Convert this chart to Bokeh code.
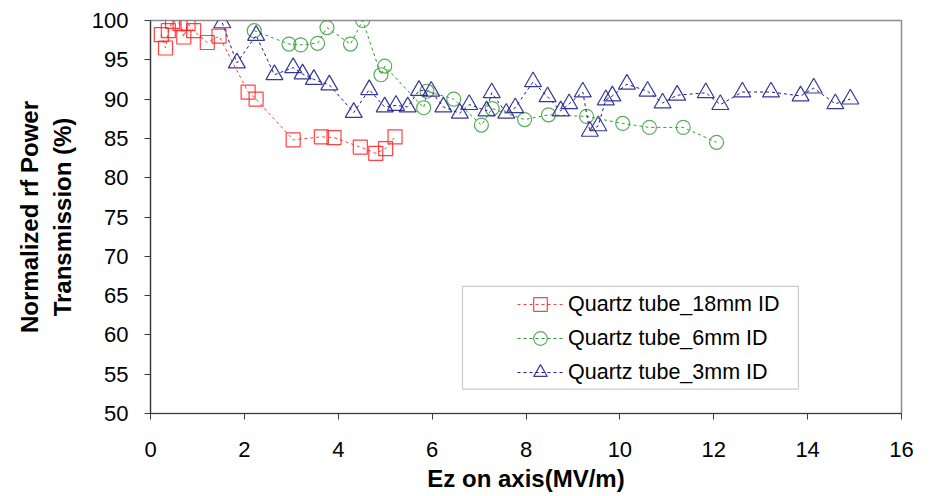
from bokeh.plotting import figure
from bokeh.embed import file_html
from bokeh.resources import INLINE
from bokeh.models import Range1d, SingleIntervalTicker, Legend, LegendItem, BoxAnnotation

# ---- data ----
x_18mm = [0.23, 0.32, 0.38, 0.47, 0.63, 0.71, 0.80, 0.92, 1.21, 1.46, 2.08, 2.25,
          3.04, 3.64, 3.91, 4.47, 4.80, 5.01, 5.21]
y_18mm = [98.2, 96.5, 98.7, 99.9, 99.6, 97.9, 99.6, 98.7, 97.2, 98.0, 90.9, 90.0,
          84.8, 85.2, 85.1, 83.9, 83.1, 83.7, 85.2]

x_6mm = [2.21, 2.95, 3.20, 3.56, 3.76, 4.26, 4.52, 4.91, 4.99, 5.82, 5.89, 6.46,
         7.05, 7.28, 7.97, 8.48, 9.29, 10.06, 10.63, 11.35, 12.06]
y_6mm = [98.7, 97.0, 96.9, 97.1, 99.1, 97.0, 100.0, 93.1, 94.2, 88.9, 91.0, 90.0,
         86.7, 88.8, 87.4, 88.0, 87.8, 86.9, 86.4, 86.4, 84.5]

x_3mm = [1.53, 1.84, 2.25, 2.64, 3.04, 3.24, 3.48, 3.81, 4.33, 4.66, 4.99, 5.23,
         5.48, 5.72, 5.98, 6.24, 6.59, 6.79, 7.16, 7.27, 7.58, 7.77, 8.15, 8.46,
         8.74, 8.92, 9.21, 9.36, 9.54, 9.70, 9.84, 10.15, 10.59, 10.91, 11.22,
         11.83, 12.14, 12.61, 13.22, 13.85, 14.13, 14.59, 14.91]
y_3mm = [99.7, 94.6, 98.1, 93.1, 94.0, 93.2, 92.5, 91.8, 88.3, 91.2, 89.0, 89.2,
         89.0, 91.1, 91.0, 89.0, 88.2, 89.3, 88.5, 90.8, 88.2, 88.9, 92.2, 90.3,
         88.5, 89.4, 90.9, 85.9, 86.6, 89.9, 90.4, 91.9, 91.0, 89.5, 90.5,
         90.8, 89.3, 90.9, 90.9, 90.4, 91.4, 89.4, 90.0]

labels = ["Quartz tube_18mm ID", "Quartz tube_6mm ID", "Quartz tube_3mm ID"]
x_title = "Ez on axis(MV/m)"
y_title = "Normalized rf Power\nTransmission (%)"

FONT = "Liberation Sans"

p = figure(width=929, height=496, output_backend="svg", toolbar_location=None,
           x_range=Range1d(0, 16), y_range=Range1d(50, 100),
           min_border_left=150, min_border_right=28, min_border_top=20,
           min_border_bottom=83)
p.background_fill_color = "white"
p.border_fill_color = "white"
p.outline_line_color = "#8c8c8c"
p.outline_line_width = 1.5
p.xgrid.visible = False
p.ygrid.visible = False

for ax in (p.xaxis[0], p.yaxis[0]):
    ax.axis_line_color = "#3a3a3a"
    ax.axis_line_width = 1.2
    ax.major_tick_line_color = "#3a3a3a"
    ax.major_tick_in = 0
    ax.major_tick_out = 6
    ax.minor_tick_line_color = None
    ax.major_label_text_font = FONT
    ax.major_label_text_font_size = "22px"
    ax.major_label_text_color = "black"
    ax.axis_label_text_font = FONT
    ax.axis_label_text_font_style = "bold"
    ax.axis_label_text_font_size = "24px"
    ax.axis_label_text_color = "black"

p.xaxis[0].ticker = SingleIntervalTicker(interval=2)
p.yaxis[0].ticker = SingleIntervalTicker(interval=5)
p.xaxis[0].major_label_standoff = 22
p.yaxis[0].major_label_standoff = 16
p.xaxis[0].axis_label = x_title
p.yaxis[0].axis_label = y_title
p.xaxis[0].axis_label_standoff = 5
p.yaxis[0].axis_label_standoff = 13

red_line, red_mk = "#ff4040", "#ff2020"
grn_line, grn_mk = "#2e9a2e", "#3aa03a"
blu_line, blu_mk = "#1a1a8c", "#22228c"

l1 = p.line(x_18mm, y_18mm, line_color=red_line, line_dash="3 3", line_width=1)
m1 = p.scatter(x_18mm, y_18mm, marker="square", size=14, fill_color=None,
               line_color=red_mk, line_width=1.2, line_alpha=0.85)
l2 = p.line(x_6mm, y_6mm, line_color=grn_line, line_dash="3 3", line_width=1)
m2 = p.scatter(x_6mm, y_6mm, marker="circle", size=14, fill_color=None,
               line_color=grn_mk, line_width=1.2, line_alpha=0.85)
l3 = p.line(x_3mm, y_3mm, line_color=blu_line, line_dash="3 3", line_width=1)
m3 = p.scatter(x_3mm, y_3mm, marker="triangle", size=17, fill_color=None,
               line_color=blu_mk, line_width=1.2, line_alpha=0.9)

# legend frame
box = BoxAnnotation(left=(462 - 150) / 46.94, right=(798 - 150) / 46.94,
                    top=100 - (286 - 20) / 7.866, bottom=100 - (389 - 20) / 7.866,
                    fill_color="white", fill_alpha=1.0,
                    line_color="#555555", line_width=1.2, level="overlay")
p.add_layout(box)

legend = Legend(items=[LegendItem(label=labels[0], renderers=[l1, m1]),
                       LegendItem(label=labels[1], renderers=[l2, m2]),
                       LegendItem(label=labels[2], renderers=[l3, m3])],
                location=(367, 24), padding=0, margin=0, spacing=0,
                glyph_width=46, glyph_height=34, label_height=34,
                label_standoff=5, label_text_font=FONT,
                label_text_font_size="21.5px", label_text_color="black",
                border_line_color=None, background_fill_alpha=0)
p.add_layout(legend, "center")

open("out.html", "w").write(file_html(p, INLINE))
